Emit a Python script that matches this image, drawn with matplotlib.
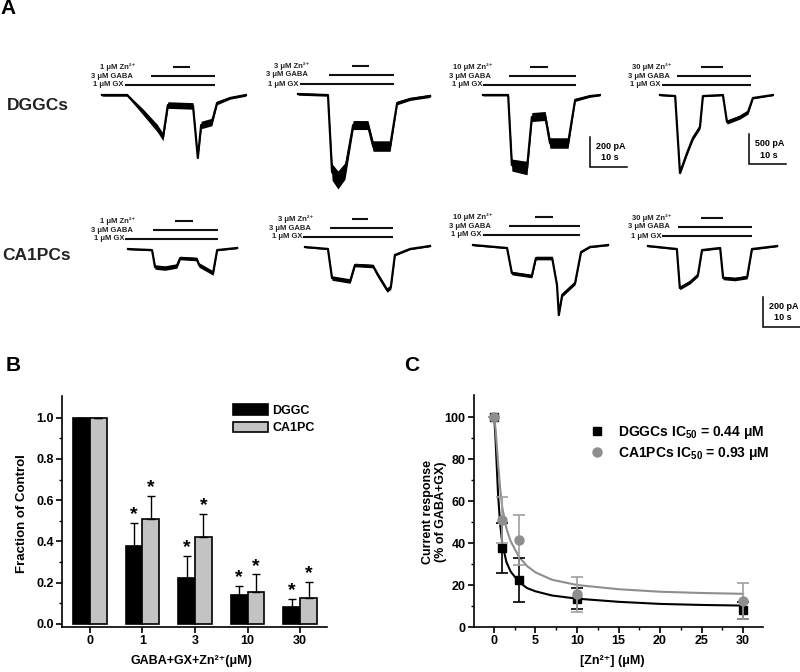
import numpy as np
import matplotlib
matplotlib.use("Agg")
import matplotlib.pyplot as plt
from matplotlib.patches import Patch
from matplotlib.lines import Line2D

plt.rcParams['font.family'] = ['Liberation Sans', 'DejaVu Sans']
plt.rcParams['font.weight'] = 'bold'
plt.rcParams['axes.labelweight'] = 'bold'
plt.rcParams['mathtext.fontset'] = 'custom'
plt.rcParams['mathtext.rm'] = 'Liberation Sans:bold'
plt.rcParams['mathtext.it'] = 'Liberation Sans:bold'
plt.rcParams['mathtext.bf'] = 'Liberation Sans:bold'

# ---- panel A: example traces (time in s, current in pA, noise half-width in pA)
dg1_t = [0, 6.8, 11.1, 14.9, 16.5, 17.8, 24.6, 25.9, 26.8, 29.7, 31.1, 34.6, 38.9]
dg1_i = [0, 0, -113, -220, -280, -67, -73, -420, -200, -180, -53, -20, 0]
dg1_n = [8, 8, 20, 25, 25, 22, 22, 5, 25, 25, 12, 8, 8]

dg2_t = [0, 8.1, 9.2, 10.8, 12.7, 14.9, 18.9, 20.3, 24.9, 26.8, 30.3, 35.7]
dg2_i = [0, -7, -520, -573, -513, -207, -207, -347, -347, -60, -33, -13]
dg2_n = [8, 8, 55, 60, 55, 30, 30, 35, 35, 12, 10, 10]

dg3_t = [0, 6.8, 7.8, 11.9, 13.2, 16.8, 18.1, 23.0, 24.9, 28.9, 31.6]
dg3_i = [0, 0, -467, -487, -147, -140, -320, -320, -33, -7, 0]
dg3_n = [6, 6, 40, 45, 30, 30, 35, 35, 10, 8, 6]

dg4_t = [0, 4.1, 5.4, 7.3, 8.9, 10.8, 11.6, 17.0, 18.1, 21.6, 23.8, 25.1, 30.5]
dg4_i = [0, -17, -1300, -967, -717, -533, -17, 0, -450, -367, -283, -50, 0]
dg4_n = [12, 12, 25, 35, 35, 35, 12, 12, 35, 35, 35, 15, 12]

ca1_t = [0, 6.5, 7.3, 10.0, 13.2, 14.1, 18.6, 19.2, 23.0, 24.1, 29.5]
ca1_i = [0, -7, -120, -127, -113, -60, -67, -107, -160, -7, 7]
ca1_n = [5, 5, 15, 15, 15, 12, 12, 15, 15, 5, 5]

ca2_t = [0, 6.2, 7.3, 12.2, 13.5, 18.4, 19.7, 22.2, 23.2, 24.3, 28.4, 33.8]
ca2_i = [0, -13, -207, -227, -120, -127, -187, -287, -267, -53, -13, 7]
ca2_n = [5, 5, 15, 15, 12, 12, 15, 15, 15, 6, 5, 5]

ca3_t = [0, 9.2, 10.5, 15.9, 17.0, 21.4, 22.7, 23.2, 24.1, 27.6, 29.2, 31.6, 36.5]
ca3_i = [0, -20, -187, -207, -87, -87, -267, -467, -333, -253, -47, -13, 0]
ca3_n = [5, 5, 12, 12, 12, 12, 12, 2, 12, 12, 6, 5, 5]

ca4_t = [0, 7.8, 8.6, 11.4, 13.5, 14.6, 19.5, 20.3, 23.5, 26.8, 28.1, 34.9]
ca4_i = [0, -20, -280, -240, -193, -27, -13, -213, -220, -207, -20, 0]
ca4_n = [5, 5, 12, 12, 12, 6, 6, 12, 12, 12, 6, 5]

# drug application windows (s): GX, GABA, Zn
dg_gx = [(6.2, 30.5), (0.5, 25.9), (0.0, 25.1), (0.5, 24.6)]
dg_gaba = [(13.2, 30.5), (8.4, 25.9), (7.0, 25.1), (4.6, 24.6)]
dg_zn = [(19.2, 23.8), (14.6, 19.2), (12.7, 17.6), (11.1, 17.0)]
ca_gx = [(-0.8, 24.3), (-0.5, 23.8), (2.7, 28.9), (3.8, 28.1)]
ca_gaba = [(6.8, 24.3), (6.8, 23.8), (9.7, 28.9), (8.1, 28.1)]
ca_zn = [(12.7, 17.6), (12.7, 17.0), (16.8, 21.6), (14.3, 20.3)]
zn_conc = ['1', '3', '10', '30']

# ---- panel B: fraction of control
conc_labels = ['0', '1', '3', '10', '30']
dggc_frac = [1.0, 0.38, 0.225, 0.14, 0.08]
dggc_err = [0.0, 0.11, 0.105, 0.045, 0.04]
ca1pc_frac = [1.0, 0.51, 0.42, 0.155, 0.125]
ca1pc_err = [0.0, 0.11, 0.115, 0.085, 0.08]

# ---- panel C: concentration response
zn_um = [0, 1, 3, 10, 30]
dggc_resp = [100, 37.5, 22.5, 13.5, 8.0]
dggc_resp_err = [0, 12, 10.5, 5, 4]
ca1pc_resp = [100, 51, 41.5, 15.5, 12.5]
ca1pc_resp_err = [0, 11, 12, 8.5, 8.5]
fit_x = [0, 0.1, 0.2, 0.3, 0.5, 0.75, 1, 1.5, 2, 3, 4, 5, 7, 10, 15, 20, 25, 30]
dggc_fit = [100, 96, 89, 80, 63, 49, 40, 31, 26.5, 21.5, 18.5, 17, 15, 13.5, 12, 11, 10.5, 10.2]
ca1pc_fit = [100, 98, 94, 89, 78, 66, 57, 47, 41, 33.5, 29, 26, 22.5, 20, 18, 16.8, 16.2, 15.8]

W, H = 800, 672
PX_PER_S = 3.7
fig = plt.figure(figsize=(W / 100, H / 100), dpi=100)


def trace(x0, y0, pa_px, t, cur, noise, gx, gaba, zn, conc):
    up, dn, wd = 40, 90, 150
    ax = fig.add_axes([x0 / W, (H - y0 - dn) / H, wd / W, (up + dn) / H])
    ax.set_xlim(0, wd / PX_PER_S)
    ax.set_ylim(-dn * pa_px, up * pa_px)
    ax.axis('off')
    c = np.array(cur, float)
    n = np.array(noise, float)
    ax.fill_between(t, c - n, c + n, color='black', lw=0, clip_on=False)
    ax.plot(t, c, color='black', lw=1.6, clip_on=False, solid_joinstyle='round')
    off = 1.0 / PX_PER_S
    for (a, b), yy, lab, dx in [(gx, 10, '1 μM GX', -1), (gaba, 19, '3 μM GABA', 8),
                                 (zn, 28, conc + ' μM Zn²⁺', 10)]:
        ax.plot([a, b], [yy * pa_px] * 2, color='#111111', lw=1.5, clip_on=False,
                solid_capstyle='butt')
        ax.text(gx[0] + dx * off, yy * pa_px, lab, ha='right', va='center',
                fontsize=5.5, color='#222222')
    return ax


def scalebar(ax, t0, i0, pa):
    ax.plot([t0, t0, t0 + 10], [i0 + pa, i0, i0], color='black', lw=1.1,
            clip_on=False, solid_joinstyle='miter')
    ax.text(t0 + 1.6, i0 + 0.68 * pa, '%d pA' % pa, fontsize=6.5, ha='left', va='center')
    ax.text(t0 + 5.3, i0 + 0.3 * pa, '10 s', fontsize=6.5, ha='center', va='center')


p200 = 200 / 30
p500 = 500 / 30
dg = [(102, 95, p200, dg1_t, dg1_i, dg1_n), (298, 94, p200, dg2_t, dg2_i, dg2_n),
      (483, 95, p200, dg3_t, dg3_i, dg3_n), (660, 95, p500, dg4_t, dg4_i, dg4_n)]
ca = [(128, 249, p200, ca1_t, ca1_i, ca1_n), (305, 247, p200, ca2_t, ca2_i, ca2_n),
      (473, 245, p200, ca3_t, ca3_i, ca3_n), (648, 246, p200, ca4_t, ca4_i, ca4_n)]
dg_axes = [trace(*d, dg_gx[k], dg_gaba[k], dg_zn[k], zn_conc[k]) for k, d in enumerate(dg)]
ca_axes = [trace(*d, ca_gx[k], ca_gaba[k], ca_zn[k], zn_conc[k]) for k, d in enumerate(ca)]
scalebar(dg_axes[2], 28.9, -480, 200)
scalebar(dg_axes[3], 24.1, -1150, 500)
scalebar(ca_axes[3], 31.1, -540, 200)

fig.text(8 / W, 1 - 9 / H, 'A', fontsize=15, ha='center', va='center')
fig.text(38 / W, 1 - 105 / H, 'DGGCs', fontsize=12.5, ha='center', va='center', color='#222222')
fig.text(37 / W, 1 - 255 / H, 'CA1PCs', fontsize=12.5, ha='center', va='center', color='#222222')
fig.text(13 / W, 1 - 366 / H, 'B', fontsize=15, ha='center', va='center')
fig.text(412 / W, 1 - 366 / H, 'C', fontsize=15, ha='center', va='center')


def style(ax):
    for s in ['top', 'right']:
        ax.spines[s].set_visible(False)
    for s in ['left', 'bottom']:
        ax.spines[s].set_linewidth(1.2)
    ax.tick_params(which='major', direction='out', length=4, width=1.2, labelsize=9, pad=2)
    ax.tick_params(which='minor', direction='out', length=2.5, width=1.0)


# ---- panel B
axb = fig.add_axes([62 / W, 1 - 627 / H, 265 / W, 231 / H])
x = np.arange(len(conc_labels))
bw = 0.32
zeros = np.zeros(len(x))
axb.bar(x - bw / 2, dggc_frac, bw, color='black', edgecolor='black', lw=1.2,
        yerr=[zeros, dggc_err], capsize=3, error_kw=dict(lw=1, capthick=1, ecolor='black'))
axb.bar(x + bw / 2, ca1pc_frac, bw, color='#c3c3c3', edgecolor='black', lw=1.2,
        yerr=[zeros, ca1pc_err], capsize=3, error_kw=dict(lw=1, capthick=1, ecolor='black'))
for k in range(1, len(x)):
    axb.text(x[k] - bw / 2, dggc_frac[k] + dggc_err[k] + 0.04, '*', ha='center', va='center', fontsize=14)
    axb.text(x[k] + bw / 2, ca1pc_frac[k] + ca1pc_err[k] + 0.04, '*', ha='center', va='center', fontsize=14)
axb.set_xlim(-0.53, 4.51)
axb.set_ylim(-0.015, 1.105)
axb.set_xticks(x)
axb.set_xticklabels(conc_labels)
axb.set_yticks(np.arange(0, 1.01, 0.2))
axb.set_yticks(np.arange(0.1, 1.1, 0.2), minor=True)
axb.yaxis.set_major_formatter(plt.FormatStrFormatter('%.1f'))
style(axb)
axb.set_ylabel('Fraction of Control', fontsize=9.5)
axb.yaxis.set_label_coords(-0.13, 0.49)
axb.set_xlabel('GABA+GX+Zn²⁺(μM)', fontsize=9)
axb.xaxis.set_label_coords(0.487, -0.122)
axb.legend(handles=[Patch(facecolor='black', edgecolor='black', lw=1.2),
                    Patch(facecolor='#c3c3c3', edgecolor='black', lw=1.2)],
           labels=['DGGC', 'CA1PC'], loc='upper left',
           bbox_to_anchor=((233 - 62) / 265, (627 - 404) / 231), frameon=False,
           borderpad=0, borderaxespad=0, handlelength=2.8, handleheight=0.95,
           labelspacing=0.4, handletextpad=0.35, fontsize=9)

# ---- panel C
axc = fig.add_axes([474 / W, 1 - 627 / H, 289 / W, 232 / H])
axc.plot(fit_x, dggc_fit, color='black', lw=1.5, zorder=2)
axc.plot(fit_x, ca1pc_fit, color='#8e8e8e', lw=1.5, zorder=2)
axc.errorbar(zn_um, dggc_resp, yerr=dggc_resp_err, fmt='s', color='black', ms=6,
             capsize=4.5, elinewidth=1.2, capthick=1.2, zorder=3)
axc.errorbar(zn_um, ca1pc_resp, yerr=ca1pc_resp_err, fmt='o', color='#8e8e8e', ms=6.5,
             ecolor='#a0a0a0', capsize=4.5, elinewidth=1.2, capthick=1.2, zorder=4)
axc.set_xlim(-2.4, 32.4)
axc.set_ylim(0, 110.5)
axc.set_xticks(np.arange(0, 31, 5))
axc.set_xticks(np.arange(2.5, 31, 5), minor=True)
axc.set_yticks(np.arange(0, 101, 20))
axc.set_yticks(np.arange(10, 110, 20), minor=True)
style(axc)
axc.set_ylabel('Current response\n(% of GABA+GX)', fontsize=9, linespacing=1.1)
axc.yaxis.set_label_coords(-0.093, 0.496)
axc.set_xlabel('[Zn²⁺] (μM)', fontsize=9)
axc.xaxis.set_label_coords(0.477, -0.122)
axc.legend(handles=[Line2D([], [], marker='s', color='black', ls='none', ms=6),
                    Line2D([], [], marker='o', color='#8e8e8e', ls='none', ms=6.5)],
           labels=['DGGCs IC$_{50}$ = 0.44 μM', 'CA1PCs IC$_{50}$ = 0.93 μM'],
           loc='upper left', bbox_to_anchor=((590 - 474) / 289, (627 - 424) / 232),
           frameon=False, borderpad=0, borderaxespad=0, handlelength=1.0,
           handletextpad=1.0, labelspacing=0.3, fontsize=10)

fig.savefig('out.png', dpi=100)
